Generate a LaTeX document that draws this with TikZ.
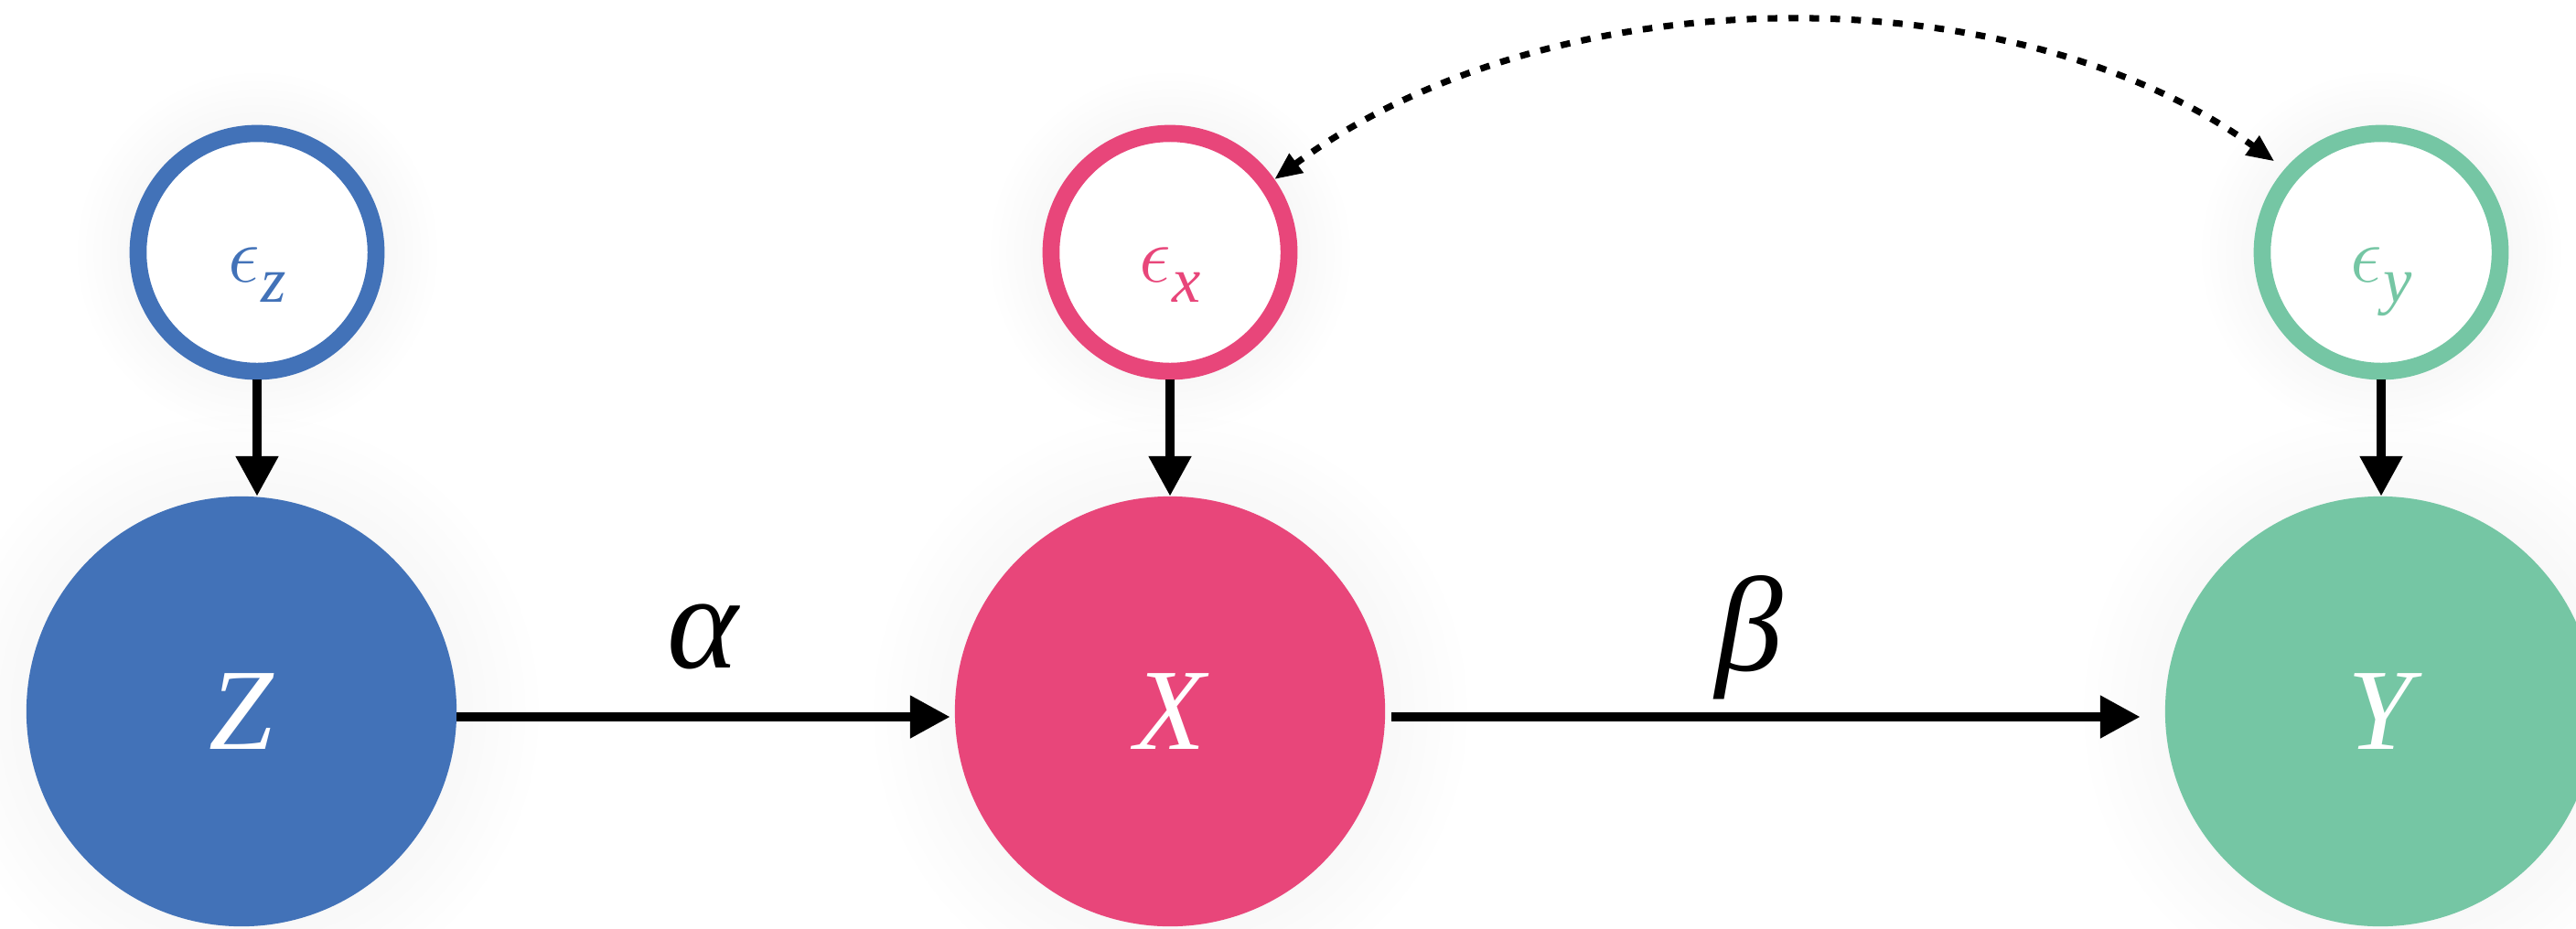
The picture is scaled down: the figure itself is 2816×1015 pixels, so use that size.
\documentclass[tikz,border=0pt]{standalone}
\usepackage{amsmath}
\usepackage{fontspec}
\setmainfont{Liberation Serif}
\usetikzlibrary{arrows.meta,fadings,calc}
\definecolor{zblue}{HTML}{4272B8}
\definecolor{xpink}{HTML}{E8467A}
\definecolor{ygreen}{HTML}{75C6A4}
\tikzfading[name=glowfade, inner color=transparent!0, outer color=transparent!100]
\newcommand{\epslab}[1]{\raisebox{-0.32cm}[0pt][0pt]{$\epsilon$\kern0.5pt\raisebox{-6.5pt}{\fontsize{20}{22}\selectfont\itshape #1}}}
\begin{document}
\begin{tikzpicture}[x=0.01cm, y=-0.01cm,
  bignode/.style={circle, minimum size=4.7cm, inner sep=0pt, outer sep=0pt, text=white,
    font=\fontsize{36}{40}\selectfont\itshape},
  ringnode/.style={circle, minimum size=2.6cm, inner sep=0pt, line width=5.3pt, fill=white,
    font=\fontsize{28}{32}\selectfont},
  solidarrow/.style={line width=3.1pt, -{Triangle[length=12.5pt,width=12.5pt]}},
  conf/.style={line width=2pt, dash pattern=on 3pt off 3.5pt,
    {Triangle[length=8.5pt,width=7pt]}-{Triangle[length=8.5pt,width=7pt]}},
  coef/.style={font=\fontsize{42}{46}\selectfont\itshape},
  bigglow/.style={fill=black, fill opacity=0.09, path fading=glowfade},
]
\useasboundingbox (0,0) rectangle (2816,1015);
\fill[white] (0,0) rectangle (2816,1015);
% positions
\coordinate (pZ) at (264,778);
\coordinate (pX) at (1279,778);
\coordinate (pY) at (2602,778);
\coordinate (pez) at (281,276);
\coordinate (pex) at (1279,276);
\coordinate (pey) at (2603,276);
% soft glows
\foreach \p in {pZ,pX,pY} { \fill[bigglow] (\p) circle (3.3cm); }
\foreach \p in {pez,pex,pey} { \fill[bigglow] (\p) circle (2.0cm); }
% nodes
\node[bignode, fill=zblue] (Z) at (pZ) {Z};
\node[bignode, fill=xpink] (X) at (pX) {X};
\node[bignode, fill=ygreen] (Y) at (pY) {Y};
\node[ringnode, draw=zblue, text=zblue] (ez) at (pez) {\epslab{z}};
\node[ringnode, draw=xpink, text=xpink] (ex) at (pex) {\epslab{x}};
\node[ringnode, draw=ygreen, text=ygreen] (ey) at (pey) {\epslab{y}};
% labels
\node[coef] (alpha) at (768,696) {α};
\node[coef] (beta) at (1912,697) {β};
% connectors
\draw[solidarrow] (ez.south) -- (ez.south |- Z.north);
\draw[solidarrow] (ex.south) -- (ex.south |- X.north);
\draw[solidarrow] (ey.south) -- (ey.south |- Y.north);
\draw[solidarrow] ([yshift=-0.06cm]Z.east) -- ([yshift=-0.06cm,xshift=-0.05cm]X.west);
\draw[solidarrow] ([yshift=-0.06cm,xshift=0.07cm]X.east) -- ([yshift=-0.06cm,xshift=-0.27cm]Y.west);
\draw[conf] (ex.35) .. controls (1700,-30) and (2200,-30) .. ([shift={(-0.1cm,0.1cm)}]ey.140);
\end{tikzpicture}
\end{document}
